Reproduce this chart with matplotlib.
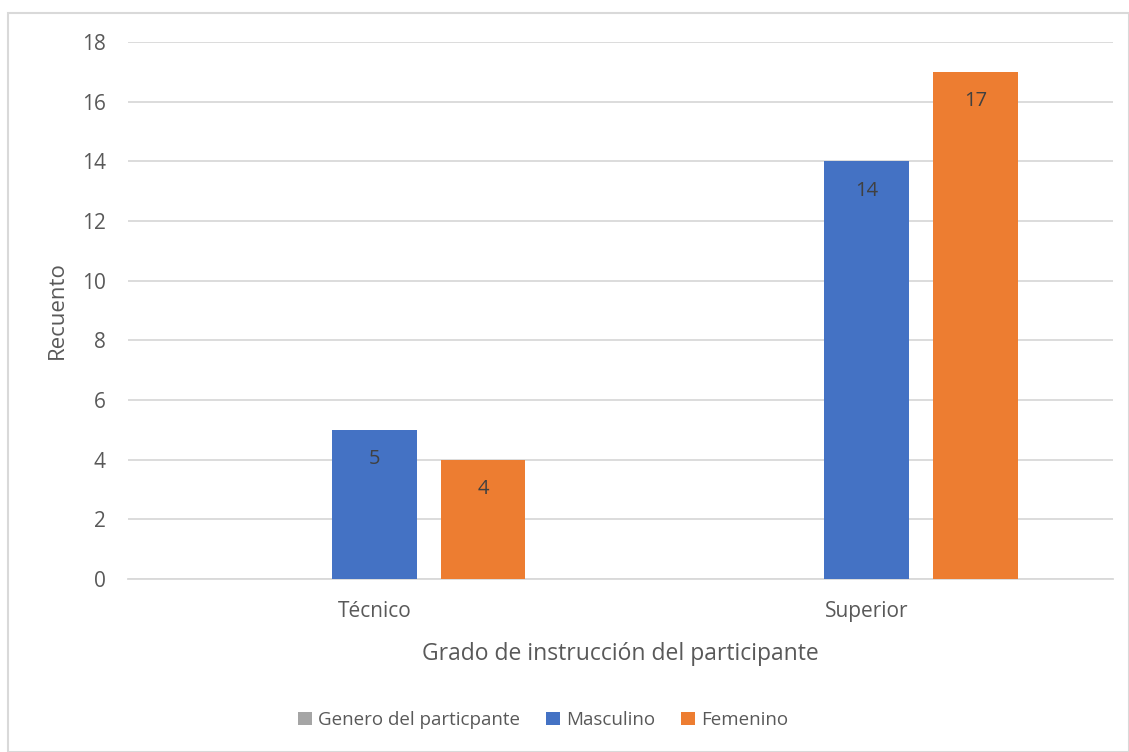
import matplotlib
matplotlib.use("Agg")
import matplotlib.pyplot as plt
from matplotlib.patches import Rectangle, Patch
import numpy as np

plt.rcParams['font.family'] = ['Open Sans', 'DejaVu Sans']

categories = ["Técnico", "Superior"]
series_names = ["Genero del particpante", "Masculino", "Femenino"]
genero = [0, 0]
masculino = [5, 14]
femenino = [4, 17]
colors = ["#a5a5a5", "#4472c4", "#ed7d31"]
text_color = "#595959"
grid_color = "#d9d9d9"

fig = plt.figure(figsize=(11.29, 7.52), dpi=100)
ax = fig.add_axes([128 / 1129, 1 - 579 / 752, (1113 - 128) / 1129, (579 - 42) / 752])

x = np.arange(len(categories))
width = 0.172
step = 0.221
all_series = [genero, masculino, femenino]
for i, (vals, col) in enumerate(zip(all_series, colors)):
    bars = ax.bar(x + (i - 1) * step, vals, width, color=col, zorder=3)
    if i > 0:
        # value labels just inside the top of each bar
        for b, v in zip(bars, vals):
            ax.annotate(str(v), (b.get_x() + b.get_width() / 2, v),
                        xytext=(0, -21), textcoords="offset points",
                        ha="center", va="center", fontsize=14.5, color="#404040")

ax.set_xlim(-0.5, 1.5)
ax.set_ylim(0, 18)
ax.set_yticks(range(0, 19, 2))
ax.set_xticks(x)
ax.set_xticklabels(categories)
ax.tick_params(axis="both", length=0, labelsize=15, colors=text_color)
ax.tick_params(axis="y", pad=16)
ax.tick_params(axis="x", pad=16)
ax.grid(axis="y", color=grid_color, linewidth=1.3, zorder=0)
for side in ["top", "right", "left"]:
    ax.spines[side].set_visible(False)
ax.spines["bottom"].set_color(grid_color)
ax.spines["bottom"].set_linewidth(1.3)

ax.set_xlabel("Grado de instrucción del participante", fontsize=16.5, color=text_color, labelpad=14)
ax.set_ylabel("Recuento", fontsize=16, color=text_color, labelpad=10)

handles = [Patch(facecolor=c, label=n) for c, n in zip(colors, series_names)]
fig.legend(handles=handles, loc="center", bbox_to_anchor=(543 / 1129, 1 - 720 / 752),
           ncol=3, frameon=False, fontsize=13.5, handlelength=0.75, handleheight=0.75,
           handletextpad=0.3, columnspacing=1.4, labelcolor=text_color)

fig.patches.append(Rectangle((8 / 1129, 0), 1 - 8 / 1129, 1 - 13 / 752,
                             transform=fig.transFigure, fill=False,
                             edgecolor=grid_color, linewidth=1.5))

fig.savefig("out.png", dpi=100)
